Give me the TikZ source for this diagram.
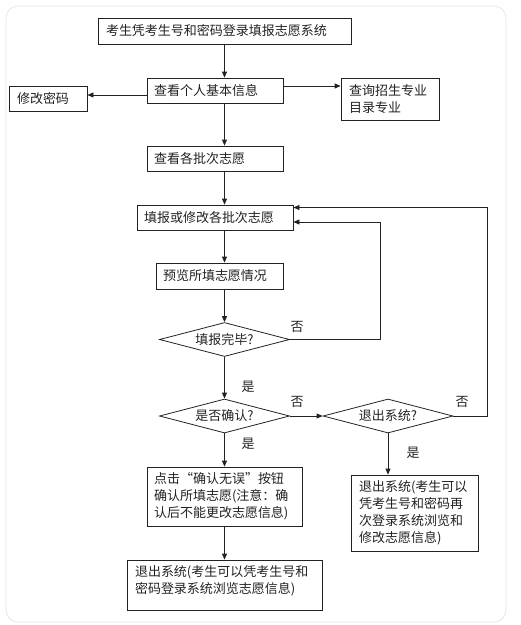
\documentclass[tikz,border=0pt]{standalone}
\usepackage{fontspec}
\setmainfont{Noto Sans CJK SC}
\usetikzlibrary{arrows.meta,shapes.geometric,calc}
\definecolor{ink}{HTML}{222222}
\definecolor{frame}{HTML}{E6E6E6}
\begin{document}
\begin{tikzpicture}[x=1pt,y=-1pt,
  every node/.style={font=\fontsize{13}{17}\selectfont, text=ink},
  box/.style={draw=ink, line width=0.8pt, inner sep=0pt, align=left, anchor=center},
  dia/.style={draw=ink, line width=0.8pt, shape=diamond, inner sep=0pt, minimum width=130pt, minimum height=34pt},
  arr/.style={draw=ink, line width=0.8pt, -{Triangle[length=6pt,width=5pt]}},
  lab/.style={inner sep=0pt}]
\useasboundingbox (0,0) rectangle (521,625);
\draw[frame, line width=0.8pt, rounded corners=12pt] (6,6) rectangle (506,622);

\node[box, minimum width=253pt, minimum height=26pt, text width=237pt] (top) at (224.5,31) {考生凭考生号和密码登录填报志愿系统};
\node[box, minimum width=136pt, minimum height=25pt, text width=122pt] (info) at (215,90.5) {查看个人基本信息};
\node[box, minimum width=78pt, minimum height=25pt, text width=62pt] (pwd) at (48,98.5) {修改密码};
\node[box, minimum width=98pt, minimum height=42pt, text width=82pt] (query) at (390,99) {查询招生专业\\目录专业};
\node[box, minimum width=136pt, minimum height=25pt, text width=122pt] (batch) at (215,158.5) {查看各批次志愿};
\node[box, minimum width=156pt, minimum height=25pt, text width=142pt] (fill) at (215,217.5) {填报或修改各批次志愿};
\node[box, minimum width=127pt, minimum height=26pt, text width=113pt] (prev) at (219.5,276) {预览所填志愿情况};
\node[dia] (d1) at (224.5,339.5) {\makebox[0pt]{填报完毕?}};
\node[dia] (d2) at (224.5,416) {\makebox[0pt]{是否确认?}};
\node[dia] (d3) at (388,416) {\makebox[0pt]{退出系统?}};
\node[box, minimum width=155pt, minimum height=59pt, text width=141pt] (click) at (224.5,496.5) {点击“确认无误”按钮\\确认所填志愿(注意：确\\认后不能更改志愿信息)};
\node[box, minimum width=127pt, minimum height=76pt, text width=111pt] (exitr) at (414.5,513) {退出系统(考生可以\\凭考生号和密码再\\次登录系统浏览和\\修改志愿信息)};
\node[box, minimum width=195pt, minimum height=50pt] (bot) at (224.5,585) {};
\node[inner sep=0pt, text width=179pt, align=left] (bottxt) at (224.5,581) {退出系统(考生可以凭考生号和\\密码登录系统浏览志愿信息)};

\coordinate (c1) at (380,339.5);
\coordinate (c2) at (487,416);

\draw[arr] (top.south) -- (top.south |- info.north);
\draw[arr] ([yshift=-4.5pt]info.west) -- ([yshift=-4.5pt]info.west -| pwd.east);
\draw[arr] ([yshift=4.5pt]info.east) -- ([yshift=4.5pt]info.east -| query.west);
\draw[arr] (top.south |- info.south) -- (top.south |- batch.north);
\draw[arr] (top.south |- batch.south) -- (top.south |- fill.north);
\draw[arr] (top.south |- fill.south) -- (top.south |- prev.north);
\draw[arr] (top.south |- prev.south) -- (d1.north);
\draw[arr] (d1.east) -- (c1) |- ([yshift=-4.5pt]fill.east);
\draw[arr] (d1.south) -- (d2.north);
\draw[arr] (d2.east) -- (d3.west);
\draw[arr] (d3.east) -- (c2) |- ([yshift=10pt]fill.east);
\draw[arr] (d2.south) -- (click.north);
\draw[arr] (d3.south) -- (d3.south |- exitr.north);
\draw[arr] (click.south) -- (bot.north);

\node[lab] (n1) at (297,327) {否};
\node[lab] (y1) at (248,387) {是};
\node[lab] (n2) at (297,402) {否};
\node[lab] (n3) at (462,402) {否};
\node[lab] (y2) at (248,444) {是};
\node[lab] (y3) at (413,453) {是};
\end{tikzpicture}
\end{document}
